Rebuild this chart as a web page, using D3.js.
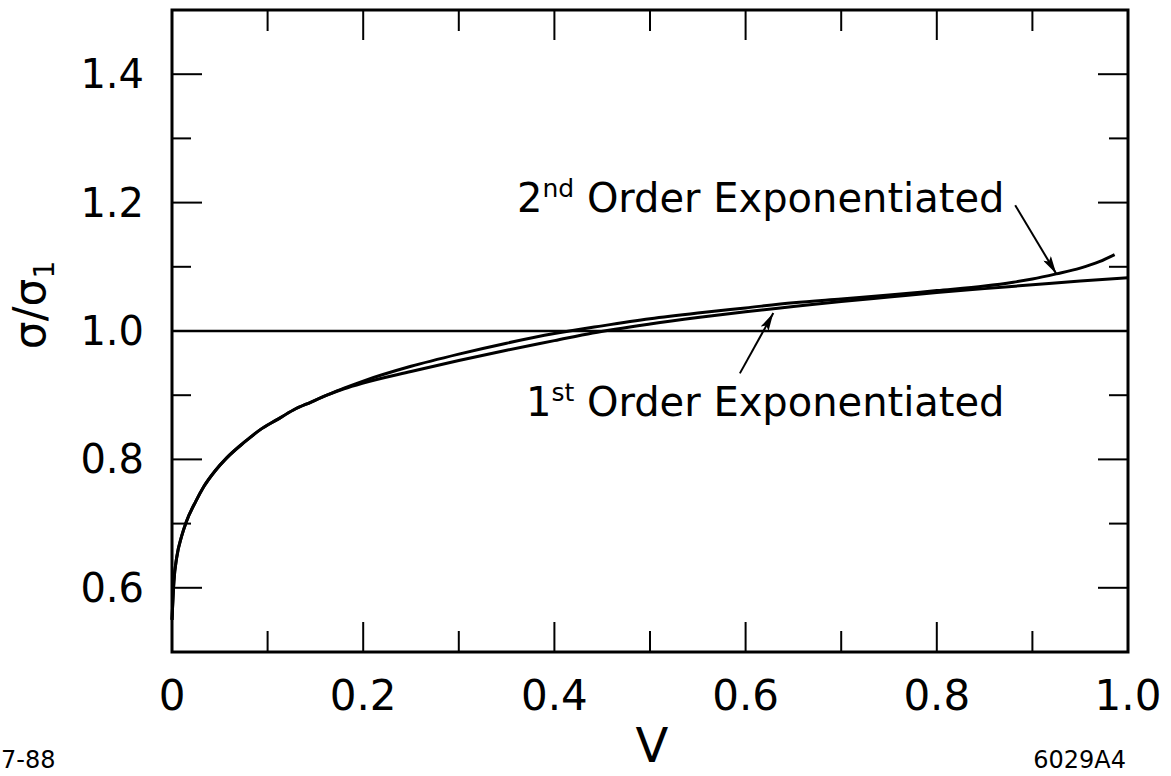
<!DOCTYPE html>
<html>
<head>
<meta charset="utf-8">
<script src="https://cdn.jsdelivr.net/npm/d3@7"></script>
<style>
  html, body { margin: 0; padding: 0; background: #fff; }
  svg { display: block; }
  text { font-family: "DejaVu Sans", "Liberation Sans", sans-serif; fill: #000; }
</style>
</head>
<body>
<svg id="chart" width="1171" height="776"></svg>
<script>
// Shared low-V branch (both curves coincide here)
const lowV     = [0, 0.002, 0.005, 0.01, 0.015, 0.025, 0.033, 0.045, 0.057, 0.075, 0.092, 0.11, 0.127, 0.145, 0.162];
const lowRatio = [0.55, 0.61, 0.648, 0.68, 0.703, 0.735, 0.757, 0.782, 0.802, 0.826, 0.846, 0.862, 0.877, 0.889, 0.900];

// First order exponentiated
const firstV     = [0.18, 0.2, 0.25, 0.3, 0.35, 0.4, 0.44, 0.5, 0.55, 0.6, 0.65, 0.7, 0.75, 0.8, 0.85, 0.9, 0.95, 1.0];
const firstRatio = [0.910, 0.919, 0.937, 0.954, 0.970, 0.985, 0.997, 1.011, 1.021, 1.030, 1.038, 1.046, 1.053, 1.060, 1.066, 1.072, 1.078, 1.083];

// Second order exponentiated
const secondV     = [0.18, 0.2, 0.25, 0.3, 0.35, 0.4, 0.45, 0.5, 0.55, 0.6, 0.65, 0.7, 0.75, 0.8, 0.85, 0.88, 0.9, 0.925, 0.95, 0.97, 0.986];
const secondRatio = [0.911, 0.922, 0.945, 0.964, 0.981, 0.996, 1.008, 1.019, 1.028, 1.036, 1.044, 1.050, 1.056, 1.063, 1.070, 1.076, 1.081, 1.089, 1.098, 1.108, 1.119];

// Axis ticks
const xMajorTicks = [0, 0.2, 0.4, 0.6, 0.8, 1.0];
const xMajorLabels = ["0", "0.2", "0.4", "0.6", "0.8", "1.0"];
const xMinorTicks = [0.1, 0.3, 0.5, 0.7, 0.9];
const yMajorTicks = [0.6, 0.8, 1.0, 1.2, 1.4];
const yMajorLabels = ["0.6", "0.8", "1.0", "1.2", "1.4"];
const yMinorTicks = [0.7, 0.9, 1.1, 1.3];

// Annotation arrows: [tailV, tailRatio, tipV, tipRatio]
const firstArrow  = [0.594, 0.934, 0.629, 1.028];
const secondArrow = [0.882, 1.196, 0.925, 1.089];

const svg = d3.select("#chart");
const x = d3.scaleLinear().domain([0, 1]).range([172, 1128]);
const y = d3.scaleLinear().domain([0.5, 1.5]).range([652, 10]);

const zip = (a, b) => a.map((v, i) => [v, b[i]]);
const firstData  = zip(lowV, lowRatio).concat(zip(firstV, firstRatio));
const secondData = zip(lowV, lowRatio).concat(zip(secondV, secondRatio));

const line = d3.line().x(d => x(d[0])).y(d => y(d[1])).curve(d3.curveMonotoneX);

// Reference line at ratio 1
svg.append("line")
  .attr("x1", x(0)).attr("x2", x(1))
  .attr("y1", y(1)).attr("y2", y(1))
  .attr("stroke", "#000").attr("stroke-width", 2.4);

// Curves
[firstData, secondData].forEach(d => {
  svg.append("path").datum(d)
    .attr("d", line)
    .attr("fill", "none")
    .attr("stroke", "#000")
    .attr("stroke-width", 3)
    .attr("stroke-linejoin", "round");
});

// Ticks on all four sides (drawn inward)
const tickG = svg.append("g").attr("stroke", "#000").attr("stroke-width", 2);
const xTicks = xMajorTicks.filter(v => v > 0 && v < 1).map(v => [v, 30]).concat(xMinorTicks.map(v => [v, 21]));
xTicks.forEach(([v, len]) => {
  tickG.append("line").attr("x1", x(v)).attr("x2", x(v)).attr("y1", y(0.5)).attr("y2", y(0.5) - len);
  tickG.append("line").attr("x1", x(v)).attr("x2", x(v)).attr("y1", y(1.5)).attr("y2", y(1.5) + len);
});
const yTicks = yMajorTicks.filter(v => v !== 1.0).map(v => [v, 30]).concat(yMinorTicks.map(v => [v, 19]));
yTicks.forEach(([v, len]) => {
  tickG.append("line").attr("x1", x(0)).attr("x2", x(0) + len).attr("y1", y(v)).attr("y2", y(v));
  tickG.append("line").attr("x1", x(1)).attr("x2", x(1) - len).attr("y1", y(v)).attr("y2", y(v));
});

// Frame
svg.append("rect")
  .attr("x", x(0)).attr("y", y(1.5))
  .attr("width", x(1) - x(0)).attr("height", y(0.5) - y(1.5))
  .attr("fill", "none").attr("stroke", "#000").attr("stroke-width", 3);

// Tick labels
svg.append("g").selectAll("text").data(xMajorTicks).join("text")
  .attr("x", d => x(d)).attr("y", 710)
  .attr("text-anchor", "middle")
  .attr("font-size", 42)
  .text((d, i) => xMajorLabels[i]);

svg.append("g").selectAll("text").data(yMajorTicks).join("text")
  .attr("x", 144).attr("y", d => y(d) + 14)
  .attr("text-anchor", "end")
  .attr("font-size", 40)
  .text((d, i) => yMajorLabels[i]);

// Axis titles
svg.append("text").attr("x", 652).attr("y", 762)
  .attr("text-anchor", "middle").attr("font-size", 48).text("V");

const yt = svg.append("text")
  .attr("transform", "translate(45,305) rotate(-90)")
  .attr("text-anchor", "middle").attr("font-size", 44);
yt.append("tspan").text("σ/σ");
yt.append("tspan").attr("dy", 9).attr("font-size", 28).text("1");

// Curve labels
function supLabel(xp, yp, lead, sup, rest) {
  const t = svg.append("text").attr("x", xp).attr("y", yp).attr("font-size", 40);
  t.append("tspan").text(lead);
  t.append("tspan").attr("dy", -15).attr("font-size", 25).text(sup);
  t.append("tspan").attr("dy", 15).text(" " + rest);
}
supLabel(517, 212, "2", "nd", "Order Exponentiated");
supLabel(526, 416, "1", "st", "Order Exponentiated");

// Arrows
svg.append("defs").append("marker")
  .attr("id", "head").attr("viewBox", "0 0 20 10")
  .attr("refX", 20).attr("refY", 5)
  .attr("markerWidth", 20).attr("markerHeight", 9)
  .attr("markerUnits", "userSpaceOnUse")
  .attr("orient", "auto")
  .append("path").attr("d", "M0,0 L20,5 L0,10 L4,5 Z").attr("fill", "#000");

[firstArrow, secondArrow].forEach(a => {
  svg.append("line")
    .attr("x1", x(a[0])).attr("y1", y(a[1]))
    .attr("x2", x(a[2])).attr("y2", y(a[3]))
    .attr("stroke", "#000").attr("stroke-width", 2)
    .attr("marker-end", "url(#head)");
});

// Figure ids
svg.append("text").attr("x", 1).attr("y", 768)
  .attr("font-size", 24)
  .attr("font-family", "Liberation Sans, Arial, sans-serif").text("7-88");
svg.append("text").attr("x", 1126).attr("y", 768).attr("text-anchor", "end")
  .attr("font-size", 24)
  .attr("font-family", "Liberation Sans, Arial, sans-serif").text("6029A4");
</script>
</body>
</html>
